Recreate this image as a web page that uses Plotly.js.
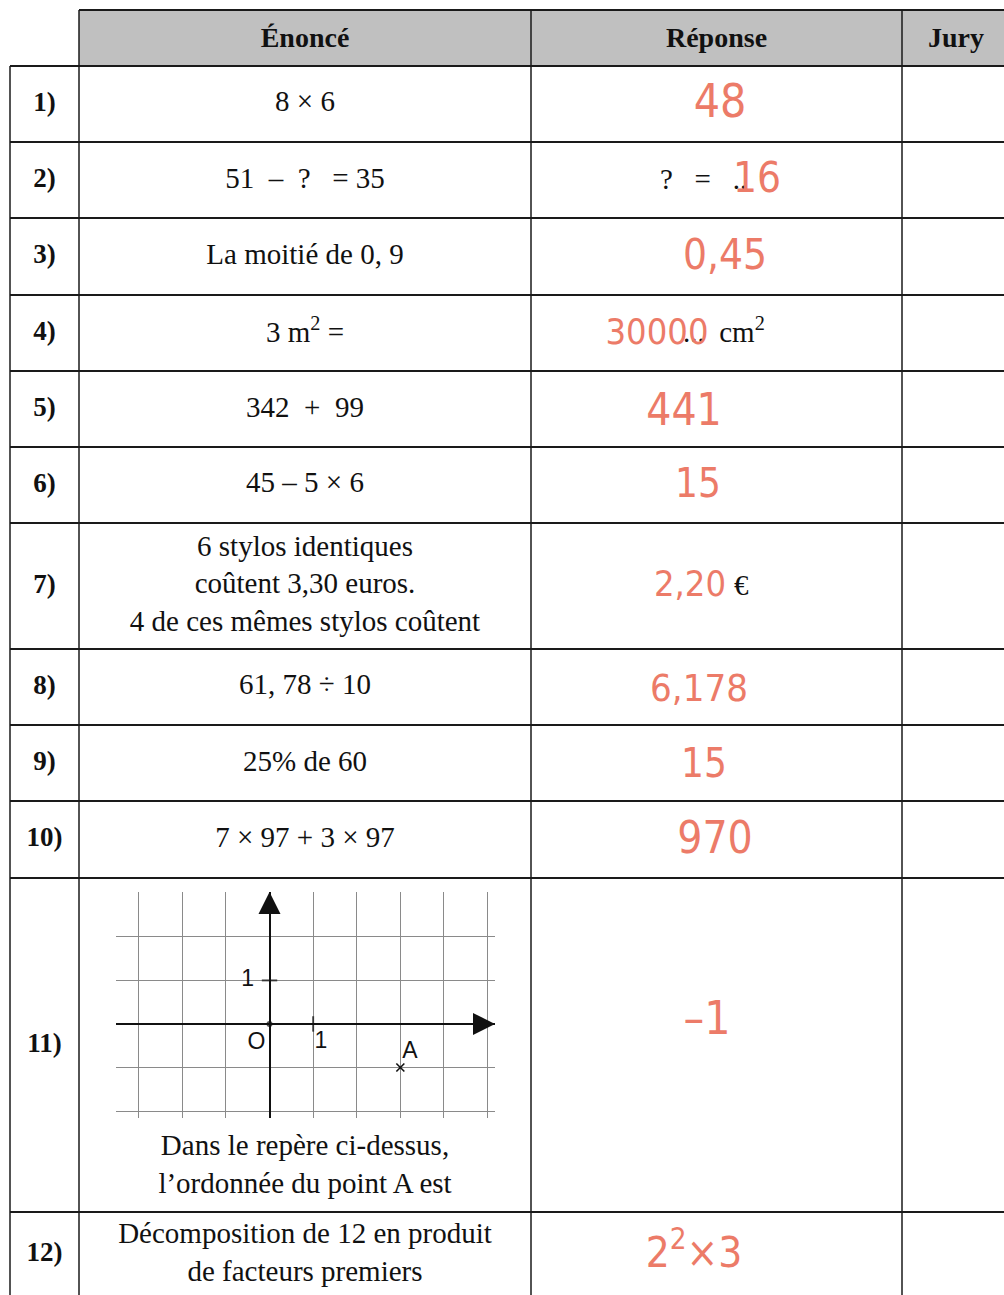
<!DOCTYPE html>
<html><head><meta charset="utf-8">
<script src="https://cdn.plot.ly/plotly-3.0.1.min.js"></script>
<style>html,body{margin:0;padding:0;background:#fff}#c{width:1004px;height:1295px}</style>
</head><body><div id="c"></div>
<script>
// ---------- data ----------
const headers = ['Énoncé', 'Réponse', 'Jury'];
const rowLabels = ['1)','2)','3)','4)','5)','6)','7)','8)','9)','10)','11)','12)'];
const enonces = [
  '8 × 6',
  '51  –  ?   = 35',
  'La moitié de 0, 9',
  '3 m<sup>2</sup> =',
  '342  +  99',
  '45 – 5 × 6',
  '6 stylos identiques<br>coûtent 3,30 euros.<br>4 de ces mêmes stylos coûtent',
  '61, 78 ÷ 10',
  '25% de 60',
  '7 × 97 + 3 × 97',
  'Dans le repère ci-dessus,<br>l’ordonnée du point A est',
  'Décomposition de 12 en produit<br>de facteurs premiers'
];
const printedAnswers = ['', '?\u00a0\u00a0\u00a0=\u00a0\u00a0\u00a0..', '', '...\u00a0\u00a0cm<sup>2</sup>', '', '', '€', '', '', '', '', ''];
const handAnswers = ['48', '16', '0,45', '30000', '441', '15', '2,20', '6,178', '15', '970', '–1', '2<sup>2</sup>×3'];
// repère (question 11)
const gridX = [-3, -2, -1, 0, 1, 2, 3, 4, 5];
const gridY = [-2, -1, 0, 1, 2];
const pointA = {x: [3], y: [-1]};
const repereLabels = ['1', 'O', '1', 'A'];
const repereLabelX = [-0.5, -0.3, 1.18, 3.22];
const repereLabelY = [1, -0.44, -0.42, -0.66];

// ---------- layout constants ----------
const W = 1004, H = 1295;
const colEdges = [10, 79, 531, 902, 1010];
const headerTop = 10, headerBottom = 66;
const rowEdges = [66, 142, 218, 295, 371, 447, 523, 649, 725, 801, 878, 1212, 1297];
const printedX = [0, 660, 0, 683, 0, 0, 734, 0, 0, 0, 0, 0];
const handX = [720, 757, 725, 657, 684, 698, 690, 699, 704, 715, 707, 694];
const handDy = [1, 1, 2, 2, 5, 2, 1, 4, 4, 2, -23, 2];
const handSize = [46, 42, 42, 36, 44, 40, 36, 38, 40, 44, 46, 42];
const enonceDy = [0, 1, 0, 2, 1, 0, 0, 0, 1, 0, 0, 0];

const serif = '"Liberation Serif", "DejaVu Serif", serif';
const hand = '"DejaVu Sans Condensed", "Liberation Sans Narrow", Roboto, sans-serif';
const red = '#ec7b68';
const ink = '#1a1a1a';

const rowCenters = rowEdges.slice(0, -1).map((e, i) => (e + rowEdges[i + 1]) / 2);
const enonceY = rowCenters.map((c, i) => c + enonceDy[i]);
enonceY[10] = 1167;
const colCenters = colEdges.slice(0, -1).map((e, i) => (e + colEdges[i + 1]) / 2);

const traces = [];
// header labels
traces.push({
  x: colCenters.slice(1), y: headers.map(() => (headerTop + headerBottom) / 2 + 2),
  text: headers.map(h => '<b>' + h + '</b>'), mode: 'text', textposition: 'middle center',
  textfont: {family: serif, size: 28, color: '#111'}, hoverinfo: 'skip', xaxis: 'x', yaxis: 'y', cliponaxis: false
});
// row labels
traces.push({
  x: rowLabels.map(() => colCenters[0]), y: rowCenters,
  text: rowLabels.map(r => '<b>' + r + '</b>'), mode: 'text', textposition: 'middle center',
  textfont: {family: serif, size: 27, color: '#111'}, hoverinfo: 'skip', xaxis: 'x', yaxis: 'y'
});
// énoncés
traces.push({
  x: enonces.map(() => colCenters[1]), y: enonceY,
  text: enonces, mode: 'text', textposition: 'middle center',
  textfont: {family: serif, size: 29, color: '#111'}, hoverinfo: 'skip', xaxis: 'x', yaxis: 'y'
});
// printed parts of answers
const pIdx = printedAnswers.map((t, i) => t ? i : -1).filter(i => i >= 0);
traces.push({
  x: pIdx.map(i => printedX[i]), y: pIdx.map(i => rowCenters[i] + 2),
  text: pIdx.map(i => printedAnswers[i]), mode: 'text', textposition: 'middle right',
  textfont: {family: serif, size: 29, color: '#111'}, hoverinfo: 'skip', xaxis: 'x', yaxis: 'y'
});
// handwritten answers
traces.push({
  x: handX, y: rowCenters.map((c, i) => c + handDy[i]),
  text: handAnswers, mode: 'text', textposition: 'middle center',
  textfont: {family: hand, size: handSize, color: red}, hoverinfo: 'skip', xaxis: 'x', yaxis: 'y', cliponaxis: false
});
// repère: arrows
traces.push({
  x: [0, 5.17], y: [3.03, 0], mode: 'markers',
  marker: {symbol: ['arrow-up', 'arrow-right'], size: 22, color: '#111', line: {width: 0}},
  xaxis: 'x2', yaxis: 'y2', cliponaxis: false, hoverinfo: 'skip'
});
// ticks and origin
traces.push({
  x: [1, 0, 0], y: [0, 1, 0], mode: 'markers',
  marker: {symbol: ['line-ns', 'line-ew', 'circle'], size: [11, 11, 4], color: '#111', line: {width: 2, color: '#111'}},
  xaxis: 'x2', yaxis: 'y2', cliponaxis: false, hoverinfo: 'skip'
});
// point A
traces.push({
  x: pointA.x, y: pointA.y, mode: 'markers',
  marker: {symbol: 'x-thin', size: 8, line: {width: 1.6, color: '#111'}},
  xaxis: 'x2', yaxis: 'y2', cliponaxis: false, hoverinfo: 'skip'
});
// repère labels
traces.push({
  x: repereLabelX, y: repereLabelY, text: repereLabels, mode: 'text', textposition: 'middle center',
  textfont: {family: '"Liberation Sans", Arial, sans-serif', size: 23, color: '#111'},
  xaxis: 'x2', yaxis: 'y2', cliponaxis: false, hoverinfo: 'skip'
});

// table lines
const shapes = [];
shapes.push({type: 'rect', xref: 'x', yref: 'y', x0: colEdges[1], x1: colEdges[4], y0: headerTop, y1: headerBottom,
  fillcolor: '#c0c0c0', line: {width: 0}, layer: 'below'});
shapes.push({type: 'line', xref: 'x', yref: 'y', x0: colEdges[1], x1: colEdges[4], y0: headerTop, y1: headerTop, line: {color: ink, width: 2}});
rowEdges.slice(0, -1).forEach(e => {
  shapes.push({type: 'line', xref: 'x', yref: 'y', x0: colEdges[0], x1: colEdges[4], y0: e, y1: e, line: {color: ink, width: 2}});
});
colEdges.slice(0, -1).forEach((e, i) => {
  shapes.push({type: 'line', xref: 'x', yref: 'y', x0: e, x1: e, y0: i === 0 ? headerBottom : headerTop, y1: rowEdges[rowEdges.length - 1],
    line: {color: ink, width: 1.5}});
});

const layout = {
  width: W, height: H, margin: {l: 0, r: 0, t: 0, b: 0},
  paper_bgcolor: '#fff', plot_bgcolor: 'rgba(0,0,0,0)', showlegend: false,
  xaxis: {range: [0, W], visible: false, fixedrange: true, domain: [0, 1]},
  yaxis: {range: [H, 0], visible: false, fixedrange: true, domain: [0, 1]},
  xaxis2: {domain: [116 / W, 495 / W], range: [-3.52, 5.17], anchor: 'y2', tickvals: gridX, showticklabels: false,
    ticks: '', showgrid: true, gridcolor: '#8a8a8a', gridwidth: 1, zeroline: true, zerolinecolor: '#111', zerolinewidth: 2,
    showline: false, fixedrange: true},
  yaxis2: {domain: [(H - 1118) / H, (H - 892) / H], range: [-2.16, 3.03], anchor: 'x2', tickvals: gridY, showticklabels: false,
    ticks: '', showgrid: true, gridcolor: '#8a8a8a', gridwidth: 1, zeroline: true, zerolinecolor: '#111', zerolinewidth: 2,
    showline: false, fixedrange: true},
  shapes: shapes
};
Plotly.newPlot('c', traces, layout, {staticPlot: true, displayModeBar: false});
</script></body></html>
